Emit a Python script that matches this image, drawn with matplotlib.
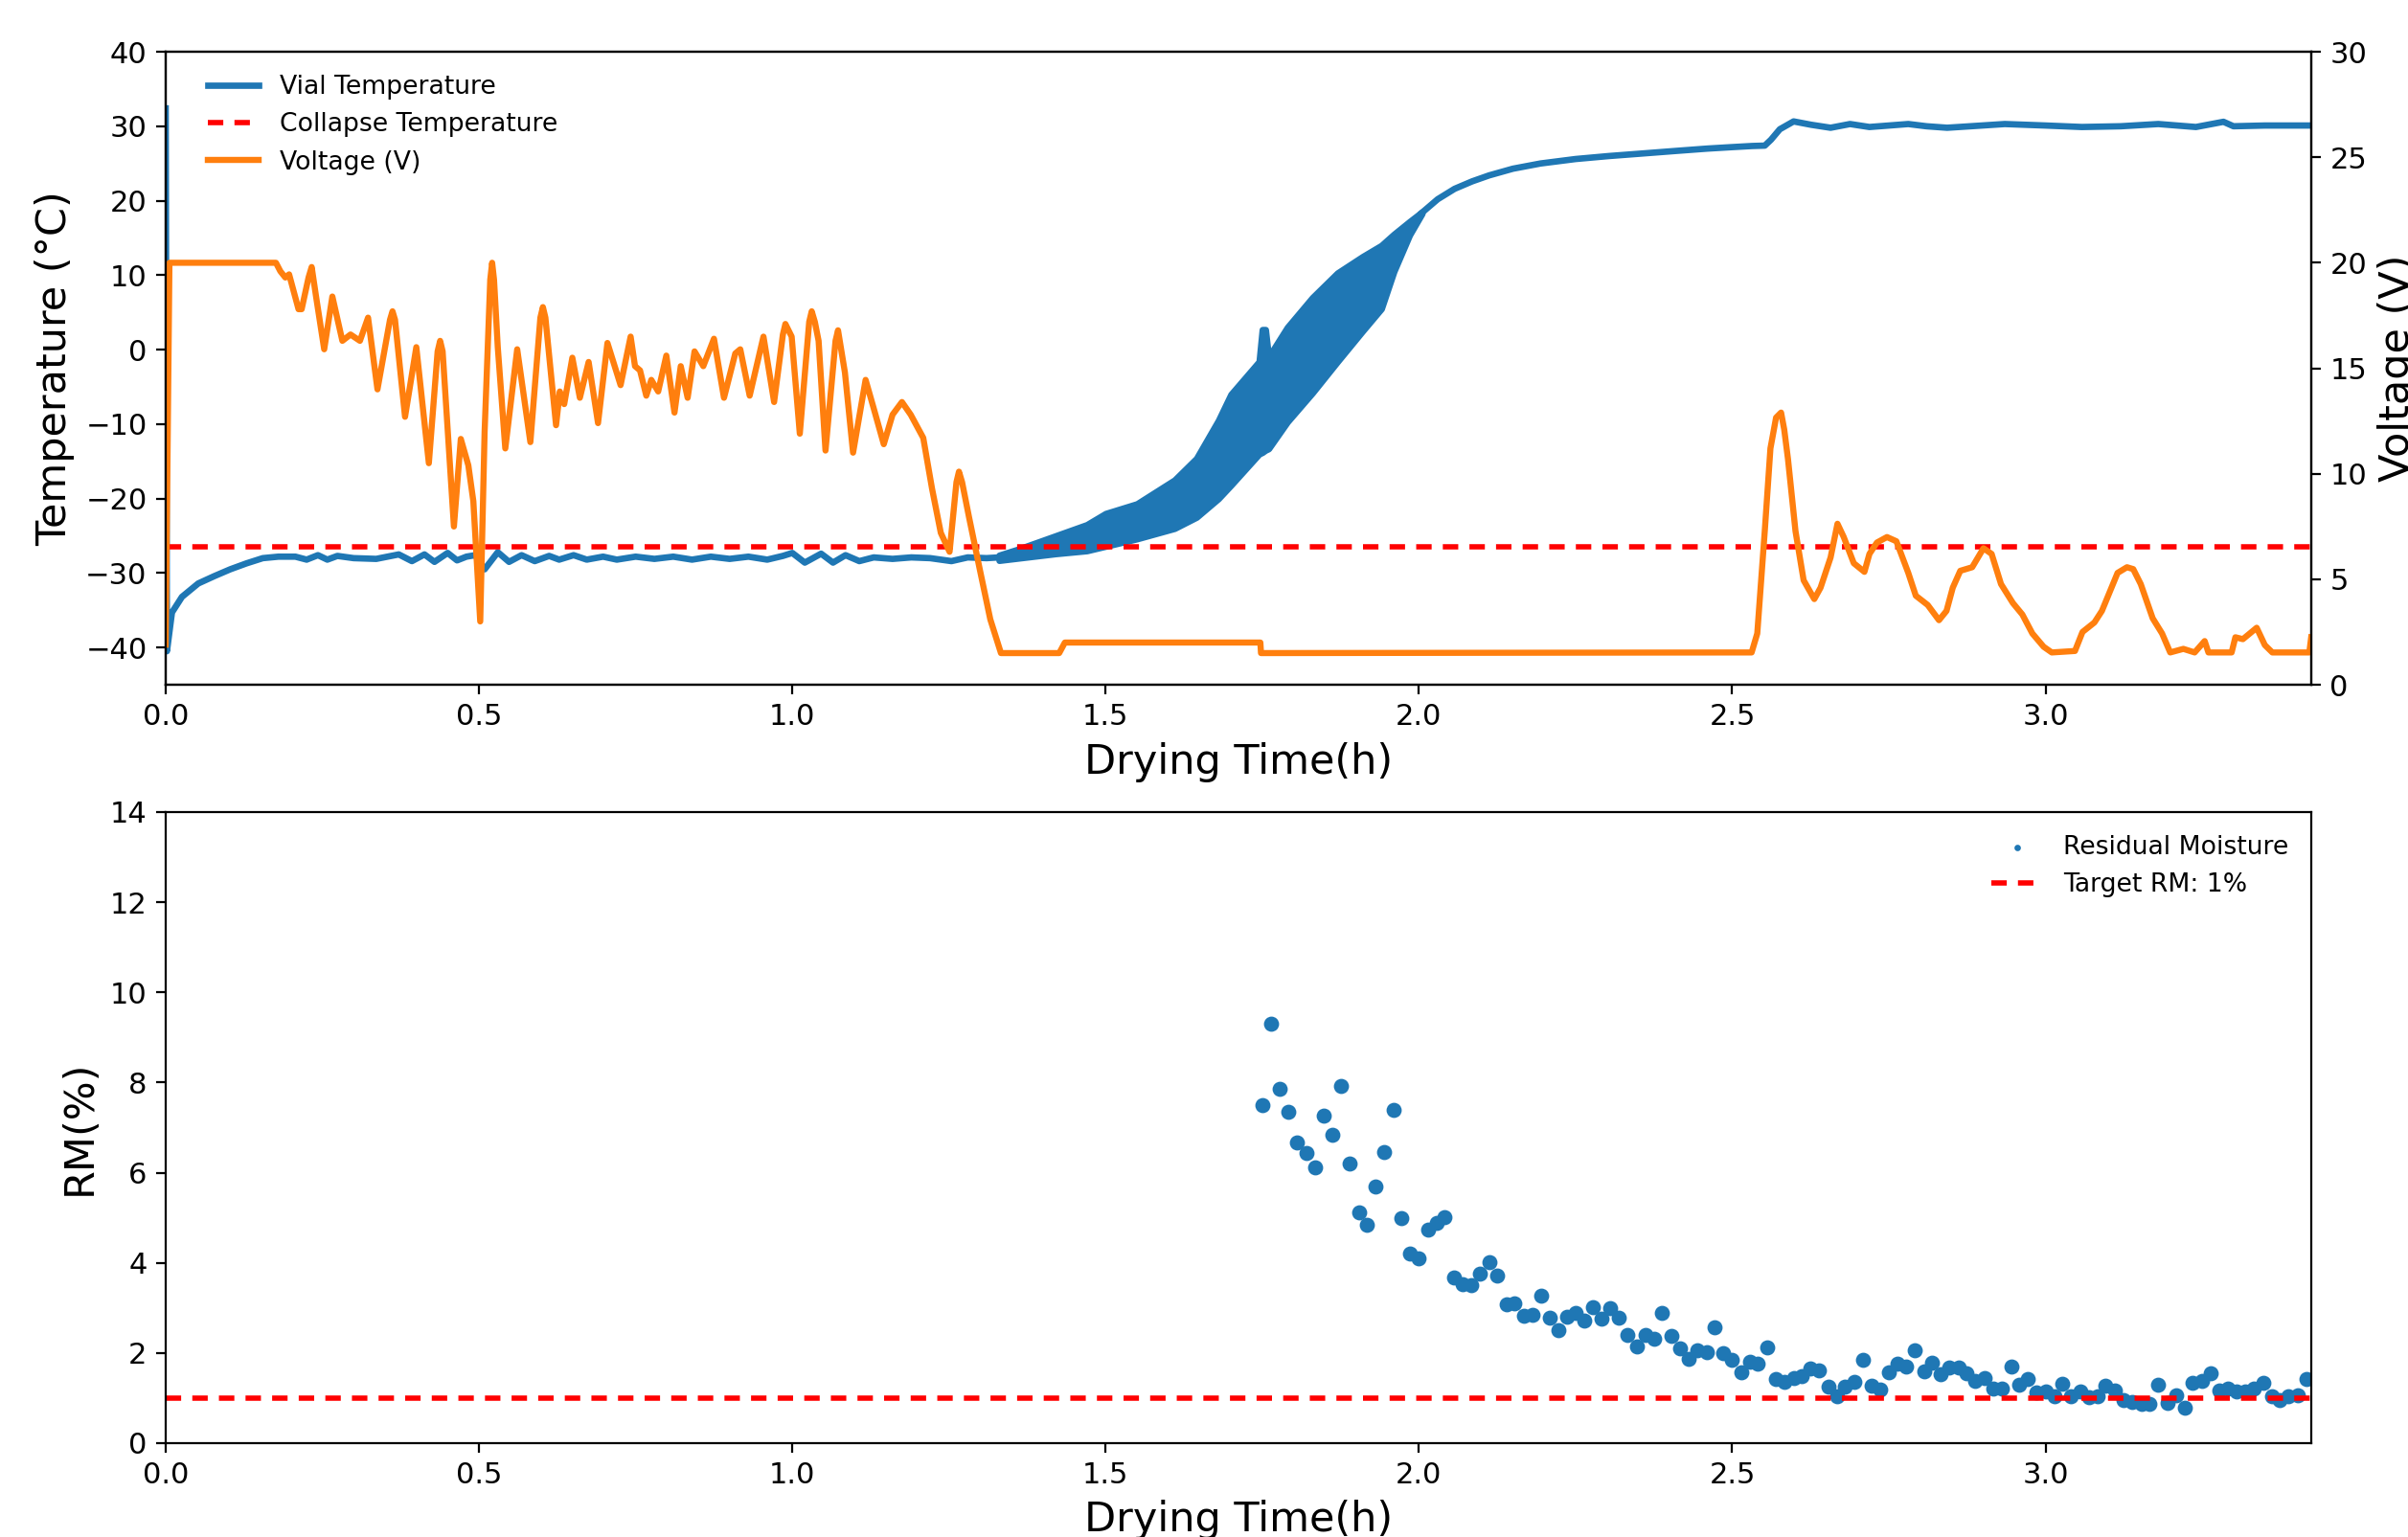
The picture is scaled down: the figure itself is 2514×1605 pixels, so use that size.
import numpy as np
import matplotlib.pyplot as plt

# tick label size a bit above default
plt.rcParams['xtick.labelsize'] = 11
plt.rcParams['ytick.labelsize'] = 11

# vial temperature before the oscillating section (h, degC)
vial_t1 = [0.0, 0.002, 0.010, 0.026, 0.052, 0.078, 0.103, 0.129, 0.155, 0.18, 0.207, 0.225,
           0.243, 0.258, 0.274, 0.30, 0.336, 0.372, 0.393, 0.413, 0.429, 0.450, 0.465, 0.48,
           0.494, 0.509, 0.530, 0.548, 0.568, 0.589, 0.612, 0.628, 0.651, 0.672, 0.698, 0.72,
           0.75, 0.78, 0.81, 0.84, 0.87, 0.90, 0.93, 0.96, 0.985, 1.0, 1.02, 1.046, 1.065,
           1.085, 1.107, 1.13, 1.16, 1.19, 1.22, 1.254, 1.28, 1.31, 1.33]
vial_T1 = [32.4, -40.5, -35.3, -33.2, -31.4, -30.4, -29.5, -28.7, -28.0, -27.8, -27.8, -28.2,
           -27.6, -28.2, -27.7, -28.0, -28.1, -27.5, -28.4, -27.5, -28.5, -27.3, -28.3, -27.8,
           -27.6, -29.5, -27.2, -28.5, -27.6, -28.4, -27.7, -28.2, -27.6, -28.2, -27.8, -28.2,
           -27.8, -28.1, -27.8, -28.2, -27.8, -28.1, -27.8, -28.2, -27.7, -27.3, -28.6, -27.4, -28.6,
           -27.6, -28.4, -27.9, -28.1, -27.9, -28.0, -28.4, -27.9, -28.0, -27.9]

# fast oscillation of the vial sensor: upper and lower envelope
band_t = [1.33, 1.36, 1.42, 1.47, 1.50, 1.55, 1.61, 1.645, 1.68, 1.70, 1.745, 1.75, 1.755, 1.76,
          1.79, 1.83, 1.87, 1.91, 1.94, 1.96, 1.985, 2.005]
band_hi = [-27.6, -26.8, -25.0, -23.5, -22.0, -20.7, -17.5, -14.6, -9.5, -6.0, -1.6, 2.7, 2.7, -1.0,
           3.0, 7.0, 10.3, 12.5, 14.0, 15.5, 17.2, 18.5]
band_lo = [-28.3, -28.0, -27.4, -27.0, -26.4, -25.4, -24.0, -22.5, -20.0, -18.2, -14.0, -13.8, -13.5, -13.3,
           -9.7, -5.8, -1.6, 2.5, 5.5, 10.5, 15.4, 18.3]

# vial temperature after the oscillating section
vial_t2 = [2.005, 2.03, 2.057, 2.085, 2.112, 2.15, 2.194, 2.25, 2.303, 2.35, 2.412, 2.46, 2.50,
           2.532, 2.552, 2.562, 2.576, 2.598, 2.626, 2.657, 2.688, 2.719, 2.75, 2.781, 2.81,
           2.843, 2.88, 2.935, 3.0, 3.058, 3.12, 3.18, 3.24, 3.284, 3.30, 3.35, 3.424]
vial_T2 = [18.4, 20.2, 21.6, 22.6, 23.4, 24.3, 25.0, 25.6, 26.0, 26.3, 26.7, 27.0, 27.2,
           27.35, 27.4, 28.2, 29.6, 30.65, 30.2, 29.8, 30.3, 29.9, 30.1, 30.3, 30.0,
           29.8, 30.0, 30.3, 30.1, 29.9, 30.0, 30.3, 29.9, 30.6, 30.0, 30.1, 30.1]

# heater voltage (V)
volt_t = [0.0, 0.006, 0.176, 0.183, 0.191, 0.197, 0.212, 0.217, 0.228, 0.233, 0.240, 0.253, 0.266, 0.282,
          0.295, 0.31, 0.323, 0.338, 0.358, 0.362, 0.366, 0.382, 0.40, 0.42, 0.434, 0.438, 0.442, 0.46, 0.471, 0.483,
          0.491, 0.502, 0.509, 0.518, 0.521, 0.524, 0.530, 0.542, 0.561, 0.582, 0.598, 0.602, 0.606, 0.623, 0.629, 0.636, 0.649, 0.661,
          0.675, 0.69, 0.705, 0.726, 0.742, 0.749, 0.757, 0.767, 0.775, 0.786, 0.799, 0.812,
          0.822, 0.833, 0.844, 0.858, 0.875, 0.891, 0.909, 0.917, 0.932, 0.954, 0.971, 0.985, 0.989,
          0.999, 1.012, 1.027, 1.031, 1.036, 1.042, 1.053, 1.069, 1.073, 1.084, 1.097, 1.117, 1.129, 1.146, 1.16,
          1.175, 1.189, 1.209, 1.223, 1.237, 1.251, 1.262, 1.266, 1.271, 1.282, 1.299, 1.316, 1.333, 1.426,
          1.435, 1.747, 1.748, 2.531, 2.540, 2.552, 2.561, 2.570, 2.578, 2.583, 2.589, 2.601,
          2.614, 2.631, 2.641, 2.657, 2.668, 2.678, 2.694, 2.711, 2.719, 2.731, 2.747, 2.762,
          2.781, 2.793, 2.812, 2.830, 2.842, 2.852, 2.864, 2.883, 2.901, 2.914, 2.929, 2.948,
          2.963, 2.979, 2.997, 3.010, 3.047, 3.059, 3.078, 3.09, 3.115, 3.13, 3.14, 3.152,
          3.171, 3.186, 3.199, 3.22, 3.238, 3.254, 3.26, 3.297, 3.303, 3.315, 3.337, 3.35,
          3.362, 3.421, 3.424]
volt_v = [1.9, 20.0, 20.0, 19.6, 19.3, 19.45, 17.8, 17.8, 19.3, 19.8, 18.4, 15.9, 18.4, 16.3,
          16.6, 16.3, 17.4, 14.0, 17.3, 17.7, 17.3, 12.7, 16.0, 10.5, 15.8, 16.3, 15.8, 7.5, 11.65, 10.4,
          8.7, 3.0, 12.0, 19.2, 20.0, 19.2, 16.0, 11.2, 15.9, 11.5, 17.4, 17.9, 17.4, 12.3, 13.9, 13.3, 15.5, 13.6,
          15.3, 12.4, 16.2, 14.2, 16.5, 15.1, 14.9, 13.7, 14.45, 13.9, 15.6, 12.9,
          15.1, 13.6, 15.8, 15.1, 16.4, 13.6, 15.7, 15.9, 13.7, 16.5, 13.4, 16.6, 17.1,
          16.5, 11.9, 17.2, 17.7, 17.2, 16.3, 11.1, 16.3, 16.8, 14.8, 11.0, 14.45, 13.2, 11.4, 12.8,
          13.4, 12.8, 11.7, 9.3, 7.2, 6.3, 9.6, 10.1, 9.6, 7.95, 5.5, 3.1, 1.5, 1.5,
          2.0, 2.0, 1.5, 1.53, 2.43, 7.3, 11.2, 12.66, 12.9, 12.1, 10.7, 7.28,
          4.95, 4.06, 4.6, 6.03, 7.63, 7.0, 5.76, 5.35, 6.2, 6.74, 7.0, 6.8,
          5.3, 4.22, 3.78, 3.06, 3.5, 4.6, 5.4, 5.57, 6.47, 6.2, 4.77, 3.87,
          3.33, 2.43, 1.8, 1.53, 1.6, 2.5, 2.95, 3.5, 5.3, 5.57, 5.48, 4.77,
          3.15, 2.43, 1.53, 1.7, 1.53, 2.07, 1.53, 1.53, 2.25, 2.16, 2.7, 1.88,
          1.53, 1.53, 2.25]

# residual moisture samples (h, %)
rm_t = [1.750, 1.764, 1.778, 1.791, 1.806, 1.820, 1.834, 1.848, 1.862, 1.875, 1.890, 1.904,
        1.917, 1.931, 1.945, 1.959, 1.972, 1.986, 2.000, 2.014, 2.028, 2.041, 2.056, 2.070,
        2.083, 2.098, 2.112, 2.125, 2.140, 2.153, 2.167, 2.181, 2.195, 2.209, 2.222, 2.236,
        2.250, 2.264, 2.277, 2.291, 2.305, 2.319, 2.333, 2.348, 2.361, 2.375, 2.388, 2.403,
        2.417, 2.430, 2.444, 2.459, 2.472, 2.486, 2.500, 2.514, 2.528, 2.541, 2.556, 2.569,
        2.583, 2.598, 2.611, 2.625, 2.638, 2.653, 2.667, 2.680, 2.695, 2.708, 2.722, 2.736,
        2.750, 2.764, 2.777, 2.791, 2.806, 2.819, 2.833, 2.847, 2.861, 2.874, 2.888, 2.903,
        2.916, 2.930, 2.945, 2.958, 2.972, 2.985, 3.000, 3.014, 3.027, 3.041, 3.056, 3.069,
        3.083, 3.096, 3.111, 3.125, 3.138, 3.153, 3.166, 3.180, 3.195, 3.208, 3.222, 3.235,
        3.250, 3.264, 3.277, 3.291, 3.305, 3.319, 3.332, 3.347, 3.361, 3.374, 3.388, 3.402,
        3.416]
rm_v = [7.49, 9.30, 7.86, 7.35, 6.66, 6.43, 6.11, 7.27, 6.84, 7.92, 6.20, 5.12,
        4.84, 5.70, 6.45, 7.39, 4.99, 4.20, 4.09, 4.73, 4.88, 5.02, 3.68, 3.53,
        3.50, 3.76, 4.01, 3.71, 3.07, 3.09, 2.83, 2.84, 3.27, 2.78, 2.51, 2.81,
        2.88, 2.71, 3.01, 2.76, 3.00, 2.78, 2.39, 2.15, 2.39, 2.31, 2.88, 2.38,
        2.10, 1.86, 2.06, 2.01, 2.56, 2.00, 1.85, 1.58, 1.80, 1.76, 2.12, 1.42,
        1.35, 1.45, 1.49, 1.66, 1.62, 1.25, 1.03, 1.25, 1.35, 1.85, 1.28, 1.19,
        1.58, 1.76, 1.70, 2.06, 1.60, 1.78, 1.53, 1.67, 1.67, 1.56, 1.39, 1.45,
        1.22, 1.22, 1.69, 1.29, 1.42, 1.12, 1.14, 1.03, 1.32, 1.03, 1.14, 1.01,
        1.05, 1.27, 1.17, 0.96, 0.92, 0.86, 0.86, 1.29, 0.89, 1.07, 0.78, 1.33,
        1.39, 1.56, 1.16, 1.22, 1.14, 1.14, 1.21, 1.33, 1.05, 0.96, 1.04, 1.06,
        1.43]

collapse_temp = -26.5
target_rm = 1.0
t_end = 3.424

blue = '#1f77b4'
orange = '#ff7f0e'

fig = plt.figure(figsize=(12.57, 8.025), dpi=200)

# ---- top panel: temperature and voltage ----
ax1 = fig.add_axes([0.0688, 0.5545, 0.8910, 0.4118])
l1, = ax1.plot(vial_t1, vial_T1, color=blue, lw=2.4, label='Vial Temperature')
ax1.fill_between(band_t, band_lo, band_hi, color=blue, lw=2.4, edgecolor=blue)
ax1.plot(vial_t2, vial_T2, color=blue, lw=2.4)
l2 = ax1.axhline(collapse_temp, color='red', ls=(0, (2.9, 2.1)), lw=2.0, label='Collapse Temperature')
ax1.set_xlim(0, t_end)
ax1.set_ylim(-45, 40)
ax1.set_xlabel('Drying Time(h)', fontsize=15.5)
ax1.set_ylabel('Temperature (°C)', fontsize=15.5)

ax2 = ax1.twinx()
l3, = ax2.plot(volt_t, volt_v, color=orange, lw=2.3, label='Voltage (V)')
ax2.set_ylim(0, 30)
ax2.set_ylabel('Voltage (V)', fontsize=15.5)

ax1.legend(handles=[l1, l2, l3], loc='upper left', bbox_to_anchor=(0.009, 1.0),
           frameon=False, fontsize=9.6)

# ---- bottom panel: residual moisture ----
ax3 = fig.add_axes([0.0688, 0.0611, 0.8910, 0.4106])
ax3.scatter(rm_t, rm_v, s=22, color=blue, label='Residual Moisture')
ax3.axhline(target_rm, color='red', ls=(0, (2.9, 2.1)), lw=2.0, label='Target RM: 1%')
ax3.set_xlim(0, t_end)
ax3.set_ylim(0, 14)
ax3.set_xlabel('Drying Time(h)', fontsize=15.5)
ax3.set_ylabel('RM(%)', fontsize=15.5)
ax3.legend(loc='upper right', frameon=False, fontsize=9.6, markerscale=0.3)

fig.savefig('out.png', dpi=200)
